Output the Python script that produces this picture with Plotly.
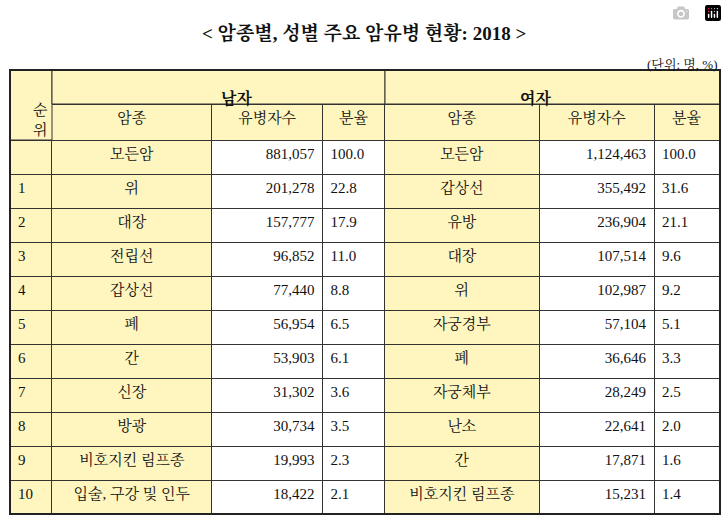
import plotly.graph_objects as go

title = "< 암종별, 성별 주요 암유병 현황: 2018 >"
unit = "(단위: 명, %)"
groups = ["남자", "여자"]
sub_headers = ["", "암종", "유병자수", "분율", "암종", "유병자수", "분율"]
ranks = ["", "1", "2", "3", "4", "5", "6", "7", "8", "9", "10"]
male_cancer = ["모든암", "위", "대장", "전립선", "갑상선", "폐", "간", "신장", "방광", "비호지킨 림프종", "입술, 구강 및 인두"]
male_count = ["881,057", "201,278", "157,777", "96,852", "77,440", "56,954", "53,903", "31,302", "30,734", "19,993", "18,422"]
male_pct = ["100.0", "22.8", "17.9", "11.0", "8.8", "6.5", "6.1", "3.6", "3.5", "2.3", "2.1"]
female_cancer = ["모든암", "갑상선", "유방", "대장", "위", "자궁경부", "폐", "자궁체부", "난소", "간", "비호지킨 림프종"]
female_count = ["1,124,463", "355,492", "236,904", "107,514", "102,987", "57,104", "36,646", "28,249", "22,641", "17,871", "15,231"]
female_pct = ["100.0", "31.6", "21.1", "9.6", "9.2", "5.1", "3.3", "2.5", "2.0", "1.6", "1.4"]

W, H = 727, 521
colw = [42, 160, 111, 62, 155, 115, 65]
x0 = 10
yel = "#FFF6BF"
white = "#FFFFFF"
font = dict(family="Liberation Serif, Noto Serif CJK KR, Noto Sans CJK KR", size=15, color="#111")
n = len(ranks)
colfill = [yel, yel, white, white, yel, white, white]

def px(x):
    return x / W

def py(y):
    return 1 - y / H

total = sum(colw)
fig = go.Figure(go.Table(
    domain=dict(x=[px(x0), px(x0 + total)], y=[0, py(104)]),
    columnwidth=colw,
    header=dict(values=sub_headers, fill_color=yel, line_color="#333", line_width=1,
                height=36, align="center", font=font),
    cells=dict(values=[ranks, male_cancer, male_count, male_pct, female_cancer, female_count, female_pct],
               fill_color=[[c] * n for c in colfill], line_color="#333", line_width=1,
               height=34, align=["left", "center", "right", "left", "center", "right", "left"],
               font=font),
))

shapes = []
ann = []
edges = [x0]
for w in colw:
    edges.append(edges[-1] + w)
shapes.append(dict(type="rect", xref="paper", yref="paper", x0=px(edges[0]), x1=px(edges[1]),
                   y0=py(140), y1=py(70), fillcolor=yel, line=dict(color="#333", width=1), layer="above"))
shapes.append(dict(type="rect", xref="paper", yref="paper", x0=px(edges[1]), x1=px(edges[4]),
                   y0=py(104), y1=py(70), fillcolor=yel, line=dict(color="#333", width=1), layer="above"))
shapes.append(dict(type="rect", xref="paper", yref="paper", x0=px(edges[4]), x1=px(edges[7]),
                   y0=py(104), y1=py(70), fillcolor=yel, line=dict(color="#333", width=1), layer="above"))
shapes.append(dict(type="rect", xref="paper", yref="paper", x0=px(edges[0]), x1=px(edges[7]),
                   y0=py(140 + 34 * n), y1=py(70), line=dict(color="#222", width=2), layer="above"))
ann.append(dict(xref="paper", yref="paper", x=px((edges[0] + edges[1]) / 2), y=py(100), text="순<br>위",
                showarrow=False, font=font))
for i, g in enumerate(groups):
    a, b = (edges[1], edges[4]) if i == 0 else (edges[4], edges[7])
    ann.append(dict(xref="paper", yref="paper", x=px((a + b) / 2), y=py(87), text="<b>%s</b>" % g,
                    showarrow=False, font=dict(font, size=16)))
ann.append(dict(xref="paper", yref="paper", x=0.5, y=py(20), text="<b>%s</b>" % title,
                showarrow=False, font=dict(font, size=19)))
ann.append(dict(xref="paper", yref="paper", x=px(720), y=py(55), xanchor="right", text=unit,
                showarrow=False, font=dict(font, size=13)))

fig.update_layout(width=W, height=H, margin=dict(l=0, r=0, t=0, b=0),
                  paper_bgcolor="white", shapes=shapes, annotations=ann)
fig.write_html("out.html", post_script="document.body.style.margin='0';document.body.style.overflow='hidden';")
